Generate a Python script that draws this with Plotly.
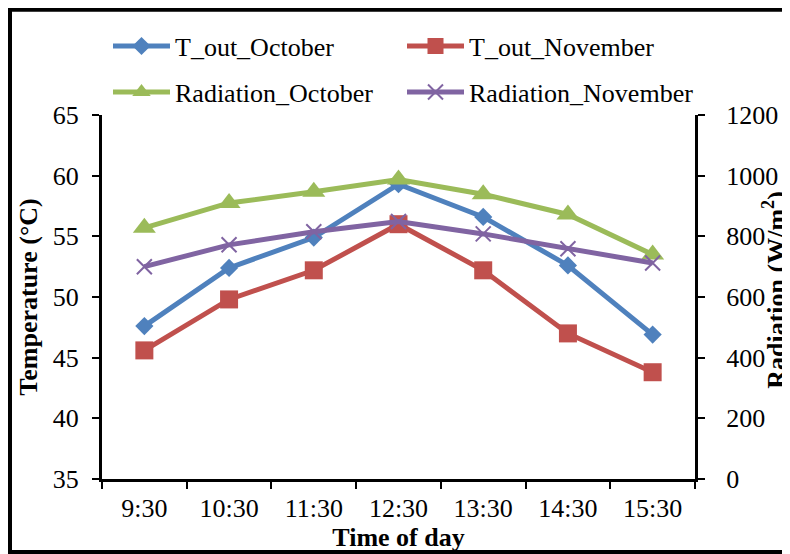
import plotly.graph_objects as go

times = ["9:30", "10:30", "11:30", "12:30", "13:30", "14:30", "15:30"]
t_out_october = [47.6, 52.4, 54.9, 59.3, 56.6, 52.6, 46.9]
t_out_november = [45.6, 49.8, 52.2, 56.0, 52.2, 47.0, 43.8]
radiation_october = [828, 910, 947, 987, 939, 872, 740]
radiation_november = [700, 772, 815, 849, 808, 759, 712]

temp_ticks = [35, 40, 45, 50, 55, 60, 65]
rad_ticks = [0, 200, 400, 600, 800, 1000, 1200]

BLUE = "#4F81BD"
RED = "#C0504D"
GREEN = "#9BBB59"
PURPLE = "#8064A2"
FONT = "Liberation Serif"

fig = go.Figure()
fig.add_trace(go.Scatter(
    x=times, y=t_out_october, name="T_out_October", mode="lines+markers",
    line=dict(color=BLUE, width=5),
    marker=dict(symbol="diamond", size=14, color=BLUE),
    legend="legend", yaxis="y"))
fig.add_trace(go.Scatter(
    x=times, y=t_out_november, name="T_out_November", mode="lines+markers",
    line=dict(color=RED, width=5),
    marker=dict(symbol="square", size=18, color=RED),
    legend="legend2", yaxis="y"))
fig.add_trace(go.Scatter(
    x=times, y=radiation_october, name="Radiation_October", mode="lines+markers",
    line=dict(color=GREEN, width=5),
    marker=dict(symbol="triangle-up", size=20, color=GREEN),
    legend="legend3", yaxis="y2"))
fig.add_trace(go.Scatter(
    x=times, y=radiation_november, name="Radiation_November", mode="lines+markers",
    line=dict(color=PURPLE, width=5),
    marker=dict(symbol="x-thin", size=15, color=PURPLE, line=dict(color=PURPLE, width=2)),
    legend="legend4", yaxis="y2"))

axis_common = dict(
    showgrid=False, zeroline=False, showline=True, linecolor="black", linewidth=3,
    ticks="outside", ticklen=7, tickwidth=2, tickcolor="black",
    tickfont=dict(family=FONT, size=26, color="black"),
)

# the page body has an 8px margin, so the figure is drawn 8px right/down
OFF = 8
W, H = 790 - OFF, 554 - OFF
L, R_EDGE, T, B_EDGE = 102 - OFF, 695 - OFF, 115 - OFF, 479.5 - OFF
PW, PH = R_EDGE - L, B_EDGE - T


def px_x(px):
    return (px - OFF - L) / PW


def px_y(py):
    return (B_EDGE - (py - OFF)) / PH


def leg(xp, yp):
    return dict(orientation="h", x=xp, y=yp, xanchor="left", yanchor="middle",
                itemwidth=57, font=dict(family=FONT, size=26, color="black"),
                bgcolor="rgba(0,0,0,0)", borderwidth=0)


row1 = px_y(46)
row2 = px_y(92)
col1 = px_x(108)
col2 = px_x(402)

fig.update_layout(
    width=W, height=H,
    margin=dict(l=L, r=W - R_EDGE, t=T, b=H - B_EDGE, autoexpand=False),
    paper_bgcolor="white", plot_bgcolor="white",
    font=dict(family=FONT, size=26, color="black"),
    xaxis=dict(**axis_common, type="category", tickson="boundaries",
               range=[-0.5, 6.5], ticklabelstandoff=4,
               title=dict(text="<b>Time of day</b>", standoff=0,
                          font=dict(family=FONT, size=26))),
    yaxis=dict(**axis_common, range=[35, 65], tickvals=temp_ticks,
               ticklabelstandoff=8,
               title=dict(text="<b>Temperature (°C)</b>", standoff=8,
                          font=dict(family=FONT, size=26))),
    yaxis2=dict(**axis_common, range=[0, 1200], tickvals=rad_ticks,
                overlaying="y", side="right", ticklabelstandoff=16),
    legend=leg(col1, row1),
    legend2=leg(col2, row1),
    legend3=leg(col1, row2),
    legend4=leg(col2, row2),
    showlegend=True,
)

fig.add_annotation(
    text="<b>Radiation (W/m<sup>2</sup>)</b>", textangle=-90,
    xref="paper", yref="paper", x=px_x(775), y=px_y(290),
    xanchor="center", yanchor="middle", showarrow=False,
    font=dict(family=FONT, size=26, color="black"))

fig.add_shape(type="rect", xref="paper", yref="paper",
              x0=px_x(10), x1=px_x(800), y0=px_y(552.5), y1=px_y(9.5),
              line=dict(color="black", width=4), fillcolor="rgba(0,0,0,0)",
              layer="above")

fig.write_html("out.html")
